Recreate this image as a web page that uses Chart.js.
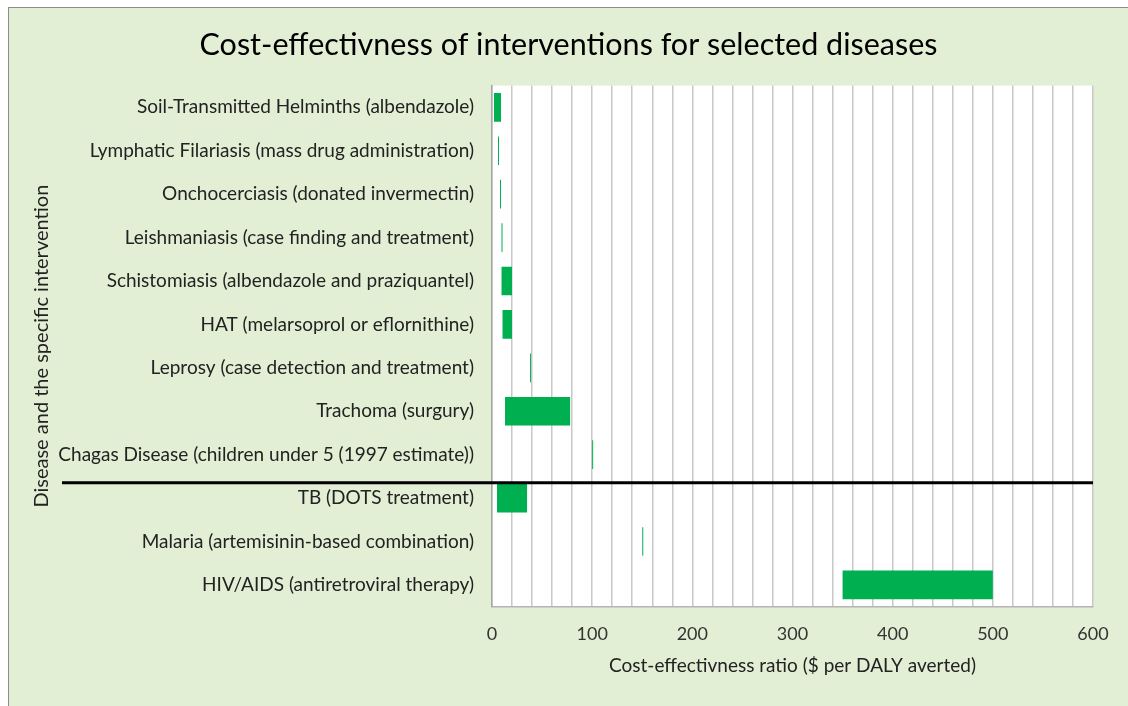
<!DOCTYPE html>
<html>
<head>
    <title>Cost-effectiveness of interventions</title>
    <style>
        body {
            margin: 0;
            background: #ffffff;
            overflow: hidden;
        }
        .frame {
            position: absolute;
            left: 8px;
            top: 7px;
            width: 1119px;
            height: 699px;
            background-color: #E2EFD5;
            border-left: 1px solid #8c8c8c;
            border-top: 1px solid #8c8c8c;
        }
    </style>
</head>
<body>
    <div class="frame">
        <canvas id="cost-chart" width="1119" height="699"></canvas>
    </div>

    <script src="https://cdn.jsdelivr.net/npm/chart.js"></script>

    <script>
        // Diseases and their interventions (top to bottom)
        const diseases = [
            'Soil-Transmitted Helminths (albendazole)',
            'Lymphatic Filariasis (mass drug administration)',
            'Onchocerciasis (donated invermectin)',
            'Leishmaniasis (case finding and treatment)',
            'Schistomiasis (albendazole and praziquantel)',
            'HAT (melarsoprol or eflornithine)',
            'Leprosy (case detection and treatment)',
            'Trachoma (surgury)',
            'Chagas Disease (children under 5 (1997 estimate))',
            'TB (DOTS treatment)',
            'Malaria (artemisinin-based combination)',
            'HIV/AIDS (antiretroviral therapy)'
        ];

        // Cost per DALY averted, low and high ends of each range
        const lowCost = [2, 6, 8, 9.5, 9.5, 10.5, 38, 13, 100, 5, 150, 350];
        const highCost = [9, 7, 9, 10.5, 20, 20, 39, 78, 101, 35, 151, 500];

        const xTickLabels = [0, 100, 200, 300, 400, 500, 600];

        const ranges = lowCost.map((v, i) => [v, highCost[i]]);

        const font = "Lato, 'Open Sans', sans-serif";

        // white plot area + the black separator line between neglected and big three diseases
        const plotDecor = {
            id: 'plotDecor',
            beforeDraw(chart) {
                const a = chart.chartArea;
                const ctx = chart.ctx;
                ctx.save();
                ctx.fillStyle = '#ffffff';
                ctx.fillRect(a.left, a.top, a.right - a.left, a.bottom - a.top);
                ctx.restore();
            },
            afterDraw(chart) {
                const y = chart.scales.y.getPixelForValue(8.65);
                const ctx = chart.ctx;
                ctx.save();
                ctx.strokeStyle = '#000000';
                ctx.lineWidth = 3;
                ctx.beginPath();
                ctx.moveTo(chart.scales.y.left + 18, y);
                ctx.lineTo(chart.chartArea.right, y);
                ctx.stroke();
                ctx.restore();
            }
        };

        const ctx = document.getElementById('cost-chart').getContext('2d');

        new Chart(ctx, {
            type: 'bar',
            data: {
                labels: diseases,
                datasets: [{
                    label: 'Cost-effectiveness ratio',
                    data: ranges,
                    backgroundColor: '#00B050',
                    borderWidth: 0,
                    borderSkipped: false,
                    barPercentage: 0.66,
                    categoryPercentage: 1.0
                }]
            },
            options: {
                indexAxis: 'y',
                responsive: false,
                animation: false,
                layout: {
                    padding: { left: 35, right: 35, top: 0, bottom: 26 }
                },
                plugins: {
                    legend: { display: false },
                    tooltip: { enabled: false },
                    title: {
                        display: true,
                        text: 'Cost-effectivness of interventions for selected diseases',
                        color: '#000000',
                        font: { family: font, size: 30.5, weight: 'normal' },
                        padding: { top: 19, bottom: 22 }
                    }
                },
                scales: {
                    x: {
                        min: 0,
                        max: 600,
                        afterBuildTicks(scale) {
                            const ticks = [];
                            for (let v = 0; v <= 600; v += 20) ticks.push({ value: v });
                            scale.ticks = ticks;
                        },
                        ticks: {
                            autoSkip: false,
                            maxRotation: 0,
                            padding: 17,
                            color: '#333333',
                            font: { family: font, size: 18 },
                            callback: (v) => xTickLabels.includes(v) ? String(v) : ''
                        },
                        grid: {
                            color: '#c8c8c8',
                            lineWidth: 1.5,
                            drawTicks: false
                        },
                        border: { color: '#b4b4b4', width: 1.5 },
                        title: {
                            display: true,
                            text: 'Cost-effectivness ratio ($ per DALY averted)',
                            color: '#222222',
                            font: { family: font, size: 19 },
                            padding: { top: -8, bottom: 4 }
                        }
                    },
                    y: {
                        afterFit(scale) {
                            scale.width = 448;
                        },
                        ticks: {
                            padding: 18,
                            color: '#222222',
                            font: { family: font, size: 19 }
                        },
                        grid: { display: false, drawTicks: false },
                        border: { color: '#a6a6a6', width: 1.5 },
                        title: {
                            display: true,
                            text: 'Disease and the specific intervention',
                            color: '#222222',
                            font: { family: font, size: 20 },
                            padding: { top: -14, bottom: 4 }
                        }
                    }
                }
            },
            plugins: [plotDecor]
        });
    </script>
</body>
</html>
